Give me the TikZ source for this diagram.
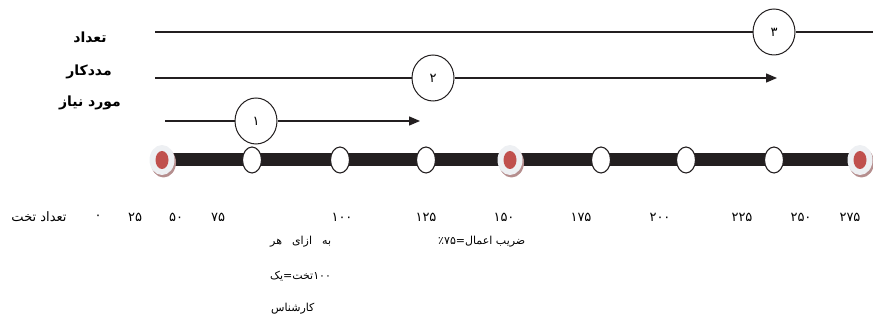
\documentclass[tikz,border=0pt]{standalone}
\usepackage{fontspec}
\usetikzlibrary{arrows.meta,shapes.geometric}
\TeXXeTstate=1
\newfontfamily\fa[Script=Arabic]{DejaVu Sans}
\definecolor{barc}{HTML}{231F20}
\definecolor{redc}{HTML}{C0504D}
\definecolor{haloc}{HTML}{EEF0F3}
\definecolor{shadc}{HTML}{B58E8E}
\tikzset{
  conn/.style={line width=1.3pt, color=barc},
  arr/.style={conn, -{Triangle[length=11pt,width=9pt]}},
  tag/.style={ellipse, draw=barc, fill=white, line width=1pt, minimum width=42pt, minimum height=46pt, inner sep=0pt, font=\fa\fontsize{13}{15}\selectfont},
  tickmark/.style={ellipse, draw=barc, fill=white, line width=1.1pt, minimum width=19pt, minimum height=26pt, inner sep=0pt},
  hubdot/.style={ellipse, fill=redc, minimum width=13pt, minimum height=18pt, inner sep=0pt},
  lab/.style={inner sep=0pt, font=\fa\bfseries\fontsize{14}{16}\selectfont},
  num/.style={inner sep=0pt, font=\fa\fontsize{13}{15}\selectfont},
  txt/.style={inner sep=0pt, anchor=west, font=\fa\fontsize{11}{13}\selectfont},
}
\begin{document}
\begin{tikzpicture}[x=1pt,y=-1pt]
\useasboundingbox (0,0) rectangle (873,320);
% left labels
\node[lab] (l1) at (90,37) {تعداد};
\node[lab] (l2) at (89,72) {مددکار};
\node[lab] (l3) at (90,103) {\beginR مورد نیاز\endR};
% line 3
\coordinate (s3) at (155,32);
\coordinate (e3) at (873,32);
\node[tag] (c3) at (774,32) {۳};
\draw[conn] (s3) -- (c3.west);
\draw[conn] (c3.east) -- (e3);
% line 2
\coordinate (s2) at (155,78);
\coordinate (e2) at (777,78);
\node[tag] (c2) at (433,78) {۲};
\draw[conn] (s2) -- (c2.west);
\draw[arr] (c2.east) -- (e2);
% line 1
\coordinate (s1) at (165,121);
\coordinate (e1) at (420,121);
\node[tag] (c1) at (256,121) {۱};
\draw[conn] (s1) -- (c1.west);
\draw[arr] (c1.east) -- (e1);
% bar
\coordinate (b0) at (162,160);
\coordinate (b9) at (860,160);
\draw[line width=13pt, color=barc] (b0) -- (b9);
\foreach \n/\x in {t1/252,t2/340,t3/426,t4/601,t5/686,t6/774}{
  \node[tickmark] (\n) at (\x,160) {};
}
\foreach \n/\x in {h1/162,h2/510,h3/860}{
  \fill[shadc] (\x+1.5,162.5) ellipse [x radius=12.5pt, y radius=15pt];
  \fill[haloc] (\x,160) ellipse [x radius=12.5pt, y radius=15pt];
  \node[hubdot] (\n) at (\x,160) {};
}
% axis labels
\node[num] (a0) at (39,217) {\beginR تعداد تخت\endR};
\foreach \n/\x/\t in {n0/98/۰,n1/135/۲۵,n2/176/۵۰,n3/218/۷۵,n4/342/۱۰۰,n5/426/۱۲۵,n6/504/۱۵۰,n7/581/۱۷۵,n8/660/۲۰۰,n9/742/۲۲۵,n10/801/۲۵۰,n11/850/۲۷۵}{
  \node[num] (\n) at (\x,217) {\t};
}
% notes
\node[txt] (m1) at (270,242) {\beginR به\hspace{10pt}ازای\hspace{10pt}هر\endR};
\node[txt] (m2) at (270,276) {یک\kern0pt =\kern0pt تخت\kern0pt ۱۰۰};
\node[txt] (m3) at (271,309) {کارشناس};
\node[txt] (k1) at (438,242) {٪\kern0pt ۷۵\kern0pt =\kern0pt \beginR ضریب اعمال\endR};
\end{tikzpicture}
\end{document}
